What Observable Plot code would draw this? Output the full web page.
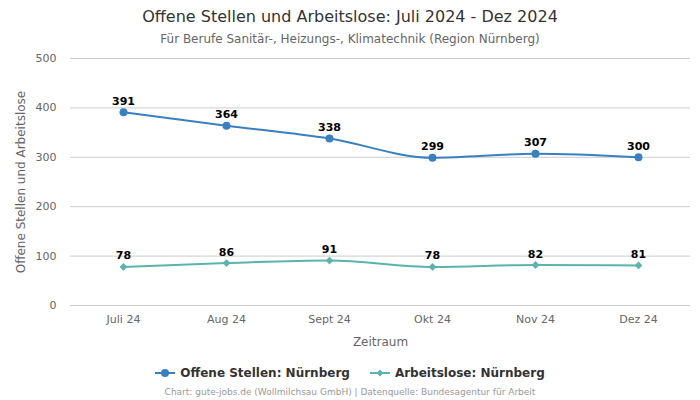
<!DOCTYPE html>
<html>
<head>
<meta charset="utf-8">
<script src="https://cdn.jsdelivr.net/npm/d3@7"></script>
<script src="https://cdn.jsdelivr.net/npm/@observablehq/plot@0.6"></script>
<style>
  body { margin: 0; width: 700px; height: 400px; background: #fff; font-family: "DejaVu Sans", sans-serif; overflow: hidden; }
  #title { text-align: center; font-size: 16px; color: #333; height: 24px; padding-top: 8px; line-height: 18px; }
  #subtitle { text-align: center; font-size: 12px; color: #666; height: 18px; line-height: 14px; }
  #legend { display: flex; justify-content: center; gap: 20px; font-size: 12px; font-weight: bold; color: #333; margin-top: 8px; height: 20px; align-items: center; }
  #legend span { display: inline-flex; align-items: center; gap: 5px; }
  #caption { text-align: center; font-size: 9px; color: #999; margin-top: 4px; }
  g[aria-label="y-axis label"] text, g[aria-label="x-axis label"] text { font-size: 12px; }
</style>
</head>
<body>
<div id="title">Offene Stellen und Arbeitslose: Juli 2024 - Dez 2024</div>
<div id="subtitle">Für Berufe Sanitär-, Heizungs-, Klimatechnik (Region Nürnberg)</div>
<div id="chart"></div>
<div id="legend"></div>
<div id="caption">Chart: gute-jobs.de (Wollmilchsau GmbH) | Datenquelle: Bundesagentur für Arbeit</div>
<script>
const months = ["Juli 24", "Aug 24", "Sept 24", "Okt 24", "Nov 24", "Dez 24"];
const offeneStellen = [391, 364, 338, 299, 307, 300];
const arbeitslose = [78, 86, 91, 78, 82, 81];
const seriesNames = ["Offene Stellen: Nürnberg", "Arbeitslose: Nürnberg"];
const seriesColors = ["#3a80c0", "#5ab4ac"];
const yTicks = [0, 100, 200, 300, 400, 500];

const os = months.map((m, i) => ({month: m, value: offeneStellen[i]}));
const al = months.map((m, i) => ({month: m, value: arbeitslose[i]}));

const chart = Plot.plot({
  width: 700,
  height: 305,
  marginLeft: 70,
  marginRight: 10,
  marginTop: 8,
  marginBottom: 50,
  style: {fontFamily: "DejaVu Sans, sans-serif", fontSize: "11px", color: "#666", background: "#fff"},
  x: {type: "point", domain: months, padding: 0.5},
  y: {domain: [0, 500]},
  marks: [
    Plot.gridY(yTicks, {stroke: "#ccc", strokeOpacity: 1}),
    Plot.axisX({tickSize: 0, tickPadding: 10, label: "Zeitraum", labelAnchor: "center", labelArrow: "none", labelOffset: 40, fontSize: 11}),
    Plot.axisY({ticks: yTicks, tickSize: 0, tickPadding: 14, label: "Offene Stellen und Arbeitslose", labelAnchor: "center", labelArrow: "none", labelOffset: 54, fontSize: 11}),
    Plot.line(os, {x: "month", y: "value", stroke: seriesColors[0], strokeWidth: 2, curve: "monotone-x"}),
    Plot.dot(os, {x: "month", y: "value", fill: seriesColors[0], r: 4, symbol: "circle"}),
    Plot.text(os, {x: "month", y: "value", text: d => String(d.value), dy: -11, fontWeight: "bold", fontSize: 11, fill: "#000"}),
    Plot.line(al, {x: "month", y: "value", stroke: seriesColors[1], strokeWidth: 2, curve: "monotone-x"}),
    Plot.dot(al, {x: "month", y: "value", fill: seriesColors[1], r: 3.5, symbol: "diamond2"}),
    Plot.text(al, {x: "month", y: "value", text: d => String(d.value), dy: -11, fontWeight: "bold", fontSize: 11, fill: "#000"})
  ]
});
document.getElementById("chart").append(chart);

const legend = document.getElementById("legend");
seriesNames.forEach((name, i) => {
  const span = document.createElement("span");
  const marker = i === 0
    ? `<circle cx="10" cy="6" r="4" fill="${seriesColors[i]}"/>`
    : `<path d="M10 2.5 L13.5 6 L10 9.5 L6.5 6 Z" fill="${seriesColors[i]}"/>`;
  span.innerHTML = `<svg width="20" height="12"><line x1="0" y1="6" x2="20" y2="6" stroke="${seriesColors[i]}" stroke-width="2"/>${marker}</svg>${name}`;
  legend.append(span);
});
</script>
</body>
</html>
